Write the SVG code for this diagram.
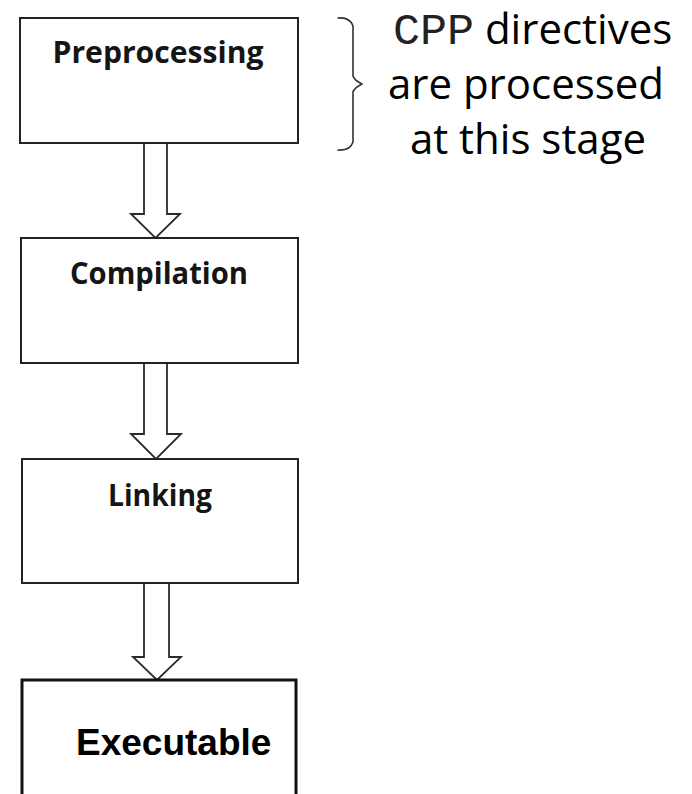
<svg xmlns="http://www.w3.org/2000/svg" width="692" height="794" viewBox="0 0 692 794">
  <style>
    .box { fill: #ffffff; stroke: #222222; stroke-width: 2; }
    .box-final { fill: #ffffff; stroke: #111111; stroke-width: 3; }
    .stage { font-family: "Open Sans", "Noto Sans", sans-serif; font-weight: 700; font-size: 30px; fill: #151515; text-anchor: middle; }
    .final { font-family: "Liberation Sans", Arial, sans-serif; font-weight: 700; font-size: 37px; fill: #000000; }
    .arrow { fill: #ffffff; stroke: #2a2a2a; stroke-width: 1.8; stroke-linejoin: miter; }
    .brace { fill: none; stroke: #333333; stroke-width: 1.6; stroke-linejoin: round; stroke-linecap: round; }
    .note { font-family: "Open Sans", "Noto Sans", sans-serif; font-size: 42px; fill: #000000; }
    .mid { text-anchor: middle; }
    tspan.mono { font-family: "Liberation Mono", "Courier New", monospace; font-size: 45px; fill: #222222; }
  </style>
  <rect width="692" height="794" fill="#ffffff"/>

  <!-- block arrows between stages -->
  <g id="connectors">
    <path class="arrow" d="M144,143 V214 H131 L155.5,238 L180,214 H167 V143"/>
    <path class="arrow" d="M144,363 V434 H131 L156,459 L181,434 H167 V363"/>
    <path class="arrow" d="M144,583 V657 H133 L157,680 L181,657 H169 V583"/>
  </g>

  <g id="preprocessing">
    <rect class="box" x="20" y="18" width="278" height="125"/>
    <text class="stage" x="158" y="63" textLength="211" lengthAdjust="spacingAndGlyphs">Preprocessing</text>
  </g>

  <g id="compilation">
    <rect class="box" x="21" y="238" width="277" height="125"/>
    <text class="stage" x="159" y="284" textLength="178" lengthAdjust="spacingAndGlyphs">Compilation</text>
  </g>

  <g id="linking">
    <rect class="box" x="22" y="459" width="276" height="124"/>
    <text class="stage" x="160" y="506" textLength="104" lengthAdjust="spacingAndGlyphs">Linking</text>
  </g>

  <g id="executable">
    <rect class="box-final" x="22" y="680" width="274" height="140"/>
    <text class="final" x="76" y="755">Executable</text>
  </g>

  <!-- brace grouping the preprocessing stage with its note -->
  <g id="note">
    <path class="brace" d="M338,18 Q350,17 353,26 V76 Q354,80 362,84 Q354,88 353,92 V142 Q350,151 338,150"/>
    <text class="note" x="393" y="44"><tspan class="mono" style="font-family:'Liberation Mono','Courier New',monospace">CPP</tspan> directives</text>
    <text class="note mid" x="526" y="99">are processed</text>
    <text class="note mid" x="528" y="154">at this stage</text>
  </g>
</svg>
